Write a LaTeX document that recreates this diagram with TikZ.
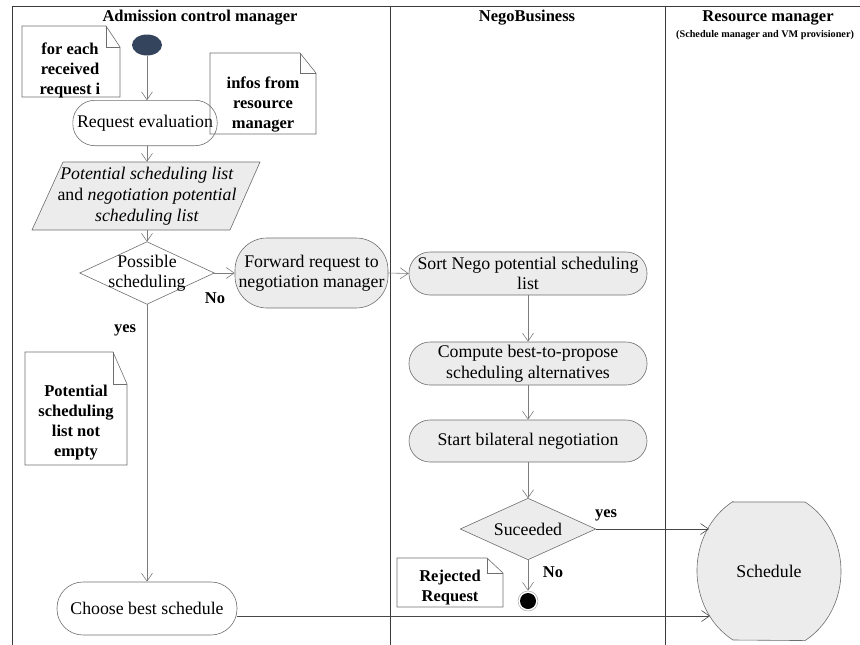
\documentclass[tikz,border=0pt]{standalone}
\usepackage{fontspec}
\setmainfont{Liberation Serif}
\usetikzlibrary{arrows.meta,shapes.geometric}
\definecolor{edge}{HTML}{6E6E6E}
\definecolor{flow}{HTML}{7C7C7C}
\definecolor{lane}{HTML}{3A3A3A}
\definecolor{boxfill}{HTML}{ECECEC}
\definecolor{startfill}{HTML}{34445C}
\tikzset{
  body/.style={font=\fontsize{17.8}{20.5}\selectfont, align=center, inner sep=0pt},
  notetext/.style={font=\bfseries\fontsize{16.5}{20}\selectfont, align=center, inner sep=0pt},
  head/.style={font=\bfseries\fontsize{16.5}{20}\selectfont, inner sep=0pt, anchor=base},
  guard/.style={font=\bfseries\fontsize{16.5}{20}\selectfont, inner sep=0pt},
  act/.style={body, draw=edge, line width=0.6pt, rounded corners=#1},
  grayact/.style={act=#1, fill=boxfill},
  ghost/.style={body, draw=none},
  outline/.style={draw=edge, line width=0.6pt},
  notestroke/.style={draw=edge, line width=0.6pt},
  flowarrow/.style={draw=flow, line width=0.6pt,
    -{Straight Barb[length=8pt,width=11pt,line width=0.6pt]}},
  longarrow/.style={draw=lane!80!flow, line width=0.7pt,
    -{Straight Barb[length=8pt,width=11pt,line width=0.6pt]}},
  laneline/.style={draw=lane, line width=0.7pt},
}
% folded-corner note outline: corners x1,y1,x2,y2 and fold width/height
\newcommand\foldnote[6]{%
  \draw[notestroke] (#1,#4) -- (#1,#2) -- (#3-#5,#2) -- (#3,#2+#6) -- (#3,#4) -- cycle;
  \draw[notestroke] (#3-#5,#2) -- (#3-#5,#2+#6) -- (#3,#2+#6);}
\begin{document}
\begin{tikzpicture}[x=1pt,y=-1pt]
\useasboundingbox (0,0) rectangle (860,645);

% swim lanes
\draw[laneline] (12,645) -- (12,6) -- (862,6);
\draw[laneline] (390,6) -- (390,645);
\draw[laneline] (665,6) -- (665,645);
\node[head] (laneA) at (200,21) {Admission control manager};
\node[head] (laneB) at (527,21) {NegoBusiness};
\node[head] (laneC) at (768,21) {Resource manager};
\node[inner sep=0pt, anchor=base west, font=\bfseries\fontsize{10.2}{12}\selectfont]
  (laneCsub) at (676,37) {(Schedule manager and VM provisioner)};

% admission control lane
\node[ellipse, fill=startfill, minimum width=30, minimum height=21, inner sep=0pt] (start) at (147,45) {};
\node[ghost, minimum width=144, minimum height=45] (reqeval) at (145,123) {Request evaluation};
\draw[outline, rounded corners=22] (reqeval.south west) rectangle (reqeval.north east);

\foldnote{22}{26}{120}{97}{14}{21}
\node[notetext] (noteA) at (70,70) {for each\\received\\request i};
\foldnote{210}{53}{316}{134}{16}{20}
\node[notetext] (noteB) at (263,105) {infos from\\resource\\manager};

\fill[boxfill] (63,162) -- (260,162) -- (230,230) -- (32,230) -- cycle;
\draw[outline] (63,162) -- (260,162) -- (230,230) -- (32,230) -- cycle;
\node[ghost, minimum width=170, minimum height=68, font=\fontsize{17.8}{21}\selectfont] (para) at (147,196)
  {\textit{Potential scheduling list}\\and \textit{negotiation potential}\\\textit{scheduling list}};

\node[ghost, minimum width=134, minimum height=62] (poss) at (147,273) {};
\draw[outline] (poss.north) -- (poss.east) -- (poss.south) -- (poss.west) -- cycle;
\node[body] at (poss.center) {Possible\\scheduling};

\node[grayact=32, minimum width=153, minimum height=70] (fwd) at (311.5,273)
  {Forward request to\\negotiation manager};

\foldnote{25}{352}{127}{465}{14}{32}
\node[notetext] (noteC) at (76,423) {Potential\\scheduling\\list not\\empty};

\node[act=26, minimum width=180, minimum height=53] (choose) at (147,608.5) {Choose best schedule};

% negotiation lane
\node[grayact=21, minimum width=238, minimum height=43] (sort) at (528,273.5)
  {Sort Nego potential scheduling\\list};
\node[grayact=21, minimum width=238, minimum height=43] (comp) at (528,363.5)
  {Compute best-to-propose\\scheduling alternatives};
\node[grayact=21, minimum width=238, minimum height=42] (bilat) at (528,441)
  {Start bilateral negotiation};

\node[ghost, minimum width=135, minimum height=61] (succ) at (528,529) {};
\draw[outline, fill=boxfill] (succ.north) -- (succ.east) -- (succ.south) -- (succ.west) -- cycle;
\node[body] at (succ.center) {Suceeded};

\node[circle, draw=edge!60, line width=0.5pt, minimum size=20, inner sep=0pt] (final) at (528,601) {};
\fill[black] (final.center) circle (8);

\foldnote{397}{558}{503}{607}{16}{15}
\node[notetext] (noteD) at (450,588) {Rejected\\Request};

% resource manager lane
\fill[boxfill] (733,502) -- (805,502) arc[start angle=-60, end angle=60, x radius=72, y radius=80]
  -- (733,640) arc[start angle=120, end angle=240, x radius=72, y radius=80] -- cycle;
\draw[outline] (733,502) -- (805,502) arc[start angle=-60, end angle=60, x radius=72, y radius=80]
  -- (733,640) arc[start angle=120, end angle=240, x radius=72, y radius=80] -- cycle;
\node[ghost, minimum width=144, minimum height=138] (sched) at (769,571) {Schedule};
\coordinate (schedIn) at (709,529);
\coordinate (schedLow) at (710,616);

% control flow
\draw[flowarrow] (start) -- (start |- reqeval.north);
\draw[flowarrow] (reqeval.south -| start) -- (para.north);
\draw[flowarrow] (para.south) -- (poss.north);
\draw[flowarrow] (poss.east) -- (fwd.west);
\draw[flowarrow] (fwd.east) -- (sort.west);
\draw[flowarrow] (sort.south) -- (comp.north);
\draw[flowarrow] (comp.south) -- (bilat.north);
\draw[flowarrow] (bilat.south) -- (succ.north);
\draw[flowarrow] (succ.south) -- (final.north);
\draw[longarrow] (succ.east) -- (schedIn);
\draw[flowarrow] (poss.south) -- (choose.north);
\draw[longarrow] (choose.east |- schedLow) -- (schedLow);

% guards
\node[guard] (gNo1) at (215,298) {No};
\node[guard] (gYes1) at (125,330) {yes};
\node[guard] (gYes2) at (606,515) {yes};
\node[guard] (gNo2) at (553,572) {No};
\end{tikzpicture}
\end{document}
